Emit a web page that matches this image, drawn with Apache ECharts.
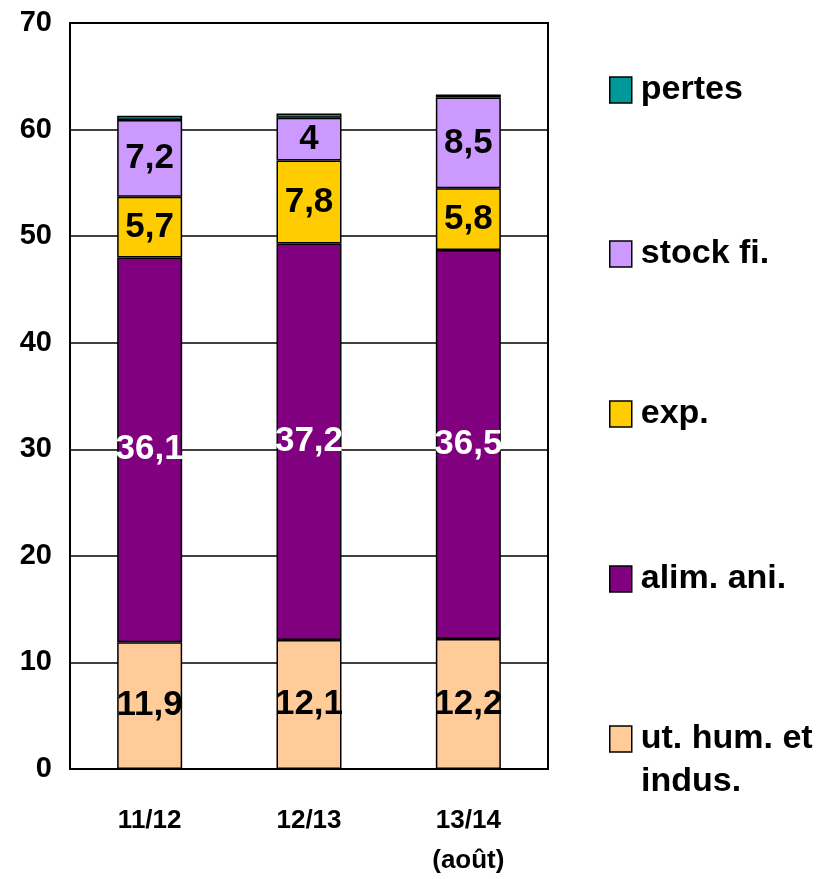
<!DOCTYPE html>
<html>
<head>
<meta charset="utf-8">
<script src="https://cdn.jsdelivr.net/npm/echarts@6/dist/echarts.min.js"></script>
<style>
  html, body { margin: 0; padding: 0; background: #fff; }
  #chart { width: 836px; height: 879px; }
</style>
</head>
<body>
<div id="chart"></div>
<script>
var categories = ['11/12', '12/13', '13/14\n(août)']
var utHum = [11.9, 12.1, 12.2]
var alimAni = [36.1, 37.2, 36.5]
var exp = [5.7, 7.8, 5.8]
var stockFi = [7.2, 4, 8.5]
var pertes = [0.4, 0.4, 0.3]
var yTicks = [0, 10, 20, 30, 40, 50, 60, 70]

var FONT = '"Liberation Sans Narrow", "Liberation Sans", Arial, sans-serif'

function serie(name, data, color, labelColor, showLabel) {
  return {
    name: name,
    type: 'bar',
    stack: 'total',
    barWidth: 65,
    data: data,
    itemStyle: { color: color, borderColor: '#000', borderWidth: 1.5 },
    label: {
      show: showLabel,
      position: 'inside',
      color: labelColor,
      fontFamily: FONT,
      fontWeight: 'bold',
      fontSize: 35,
      formatter: function (p) { return String(p.value).replace('.', ',') }
    }
  }
}

function legendAt(name, top, fmt) {
  var l = {
    data: [{ name: name, icon: 'rect' }],
    left: 604,
    top: top,
    itemWidth: 22,
    itemHeight: 26,
    itemGap: 0,
    selectedMode: false,
    itemStyle: { borderColor: '#000', borderWidth: 1.5 },
    textStyle: { fontFamily: FONT, fontWeight: 'bold', fontSize: 34, color: '#000', padding: [0, 0, 0, 4] }
  }
  if (fmt) l.formatter = fmt
  return l
}

var chart = echarts.init(document.getElementById('chart'))
chart.setOption({
  animation: false,
  grid: {
    left: 70, right: 288, top: 23, bottom: 110,
    outerBoundsMode: 'none',
    containLabel: false,
    show: true, borderColor: '#000', borderWidth: 2
  },
  legend: [
    legendAt('pertes', 68),
    legendAt('stock fi.', 232),
    legendAt('exp.', 392),
    legendAt('alim. ani.', 557),
    legendAt('ut. hum. et indus.', 717, function () { return 'ut. hum. et' })
  ],
  graphic: [{
    type: 'text', left: 641, top: 765,
    style: { text: 'indus.', fontFamily: FONT, fontWeight: 'bold', fontSize: 34, fill: '#000' }
  }],
  xAxis: {
    type: 'category',
    data: categories,
    axisLine: { lineStyle: { color: '#000', width: 2 } },
    axisTick: { show: false },
    axisLabel: {
      margin: 32, fontFamily: FONT, fontWeight: 'bold', fontSize: 26, color: '#000', lineHeight: 40
    }
  },
  yAxis: {
    type: 'value',
    min: yTicks[0],
    max: yTicks[yTicks.length - 1],
    interval: 10,
    axisLine: { show: true, lineStyle: { color: '#000', width: 2 } },
    axisTick: { show: false },
    splitLine: { lineStyle: { color: '#000', width: 1.5 } },
    axisLabel: { margin: 18, fontFamily: FONT, fontWeight: 'bold', fontSize: 29, color: '#000' }
  },
  series: [
    serie('ut. hum. et indus.', utHum, '#FFCC99', '#000', true),
    serie('alim. ani.', alimAni, '#800080', '#fff', true),
    serie('exp.', exp, '#FFCC00', '#000', true),
    serie('stock fi.', stockFi, '#CC99FF', '#000', true),
    serie('pertes', pertes, '#009999', '#000', false)
  ]
})
</script>
</body>
</html>
